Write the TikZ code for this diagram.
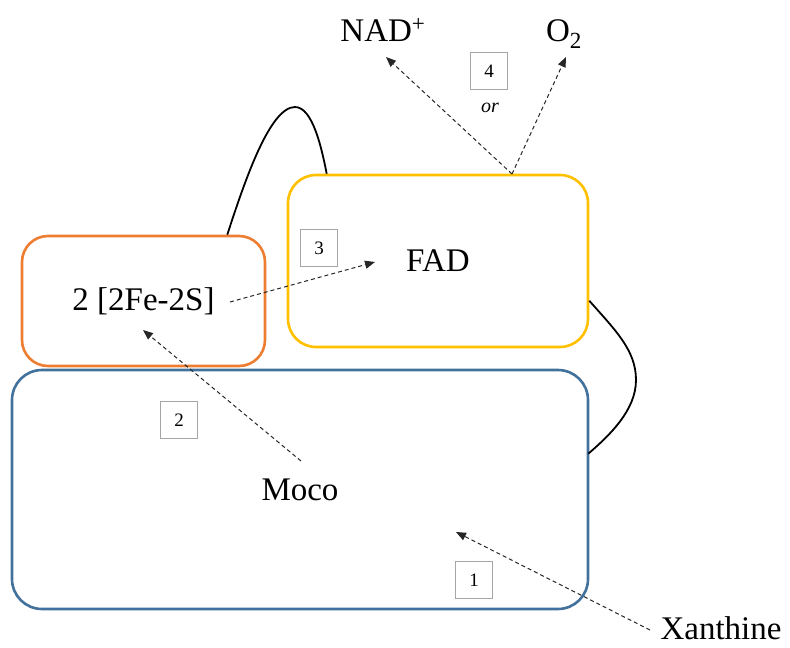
\documentclass[tikz,border=0pt]{standalone}
\usepackage{fontspec}
\setmainfont{Liberation Serif}
\usetikzlibrary{arrows.meta,calc}
\definecolor{fesorange}{HTML}{ED7D31}
\definecolor{fadyellow}{HTML}{FFC000}
\definecolor{mocoblue}{HTML}{41719C}
\definecolor{stepgray}{HTML}{A6A6A6}
\begin{document}
\begin{tikzpicture}[x=1pt,y=-1pt,
  domain/.style={draw, line width=2.6pt, rounded corners=#1, inner sep=0pt,
                 font=\fontsize{33}{40}\selectfont},
  label/.style={inner sep=0pt, font=\fontsize{33}{40}\selectfont},
  stepbox/.style={draw=stepgray, line width=1.8pt, minimum size=37pt, inner sep=0pt,
                  font=\fontsize{19}{22}\selectfont},
  flow/.style={draw=black!85, line width=1pt, dash pattern=on 4pt off 3pt,
               -{Triangle[length=10pt,width=8pt]}},
  linker/.style={draw=black, line width=1.8pt}]
\useasboundingbox (0,0) rectangle (790,648);

% domains
\node[domain=30pt, mocoblue, text=black, minimum width=576pt, minimum height=239pt]
  (moco) at (300,489.5) {Moco};
\node[domain=28pt, fadyellow, text=black, minimum width=300pt, minimum height=172pt]
  (fad) at (438,261) {FAD};
\node[domain=26pt, fesorange, text=black, minimum width=243pt, minimum height=130pt]
  (fes) at (143.5,301) {2 [2Fe-2S]};

% substrates and acceptors
\node[label] (xan) at (721,628) {Xanthine};
\node[label] (nad) at (383,30) {NAD\textsuperscript{+}};
\node[label] (oxy) at (564,34) {O\textsubscript{2}};
\node[inner sep=0pt, font=\fontsize{20}{24}\selectfont\itshape] (or) at (490,108) {or};

% electron transfer steps
\node[stepbox] (s1) at (474,580) {1};
\node[stepbox] (s2) at (179,420) {2};
\node[stepbox] (s3) at (319,248) {3};
\node[stepbox] (s4) at (489,71) {4};

% linker peptides between domains
\coordinate (fesTop) at ($(fes.north east)+(-39,0)$);
\coordinate (fadTop) at ($(fad.north west)+(40,0)$);
\coordinate (peak) at (295,107);
\draw[linker] (fesTop) .. controls (245,180) and (270,107) .. (peak)
  .. controls (313,107) and (322,150) .. (fadTop);
\coordinate (fadSide) at ($(fad.north east)+(0,127)$);
\coordinate (mocoSide) at ($(moco.north east)+(-1,85)$);
\coordinate (bend) at (636,380);
\draw[linker] (fadSide) .. controls (615,330) and (636,350) .. (bend)
  .. controls (636,410) and (610,435) .. (mocoSide);

% electron flow
\coordinate (xanOut) at (650,630);
\coordinate (mocoIn) at (456,532);
\coordinate (mocoOut) at (301,461);
\coordinate (fesIn) at (143,330);
\coordinate (fesOut) at (230,302);
\coordinate (fadIn) at (375,262);
\coordinate (fadOut) at (512,174);
\coordinate (nadIn) at (386,57);
\coordinate (oxyIn) at (566,57);
\draw[flow] (xanOut) -- (mocoIn);
\draw[flow] (mocoOut) -- (fesIn);
\draw[flow] (fesOut) -- (fadIn);
\draw[flow] (fadOut) -- (nadIn);
\draw[flow] (fadOut) -- (oxyIn);
\end{tikzpicture}
\end{document}
